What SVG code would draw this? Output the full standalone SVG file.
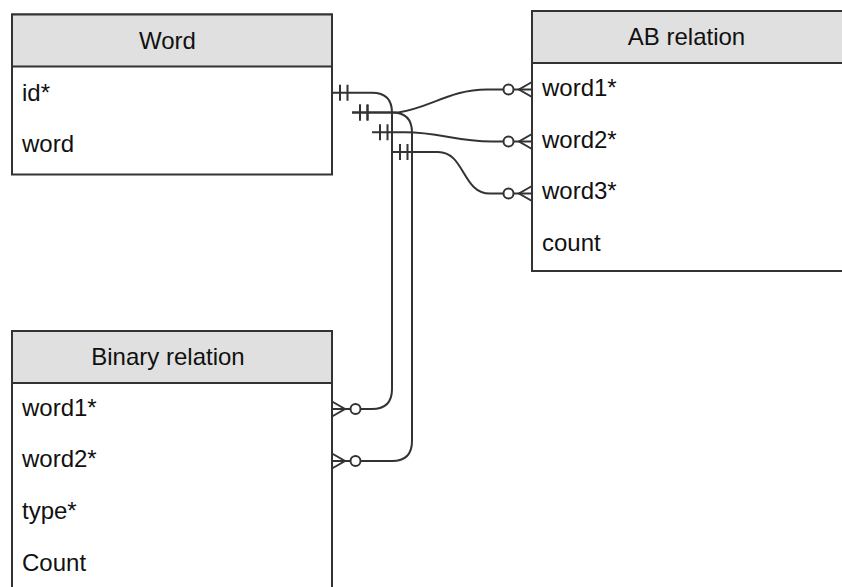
<svg xmlns="http://www.w3.org/2000/svg" width="842" height="587" viewBox="0 0 842 587">
  <style>
    .box { fill: #ffffff; stroke: #333333; stroke-width: 2; }
    .head { fill: #e0e0e0; stroke: #333333; stroke-width: 2; }
    .title { font-family: "Liberation Sans", Arial, sans-serif; font-size: 24px; fill: #111111; text-anchor: middle; }
    .field { font-family: "Liberation Sans", Arial, sans-serif; font-size: 24px; fill: #111111; }
    .link { fill: none; stroke: #333333; stroke-width: 2; }
    .mk { fill: none; stroke: #333333; stroke-width: 2; }
  </style>
  <defs>
    <!-- exactly one: two bars near the line start -->
    <marker id="one" markerUnits="userSpaceOnUse" orient="auto" markerWidth="40" markerHeight="40" viewBox="-20 -20 40 40" refX="0" refY="0" overflow="visible">
      <path class="mk" d="M8,-8 V8 M15.5,-8 V8"/>
    </marker>
    <!-- zero or many: circle plus crow's foot at the line end -->
    <marker id="many" markerUnits="userSpaceOnUse" orient="auto" markerWidth="60" markerHeight="40" viewBox="-40 -20 60 40" refX="0" refY="0" overflow="visible">
      <path class="mk" d="M0,-7.5 L-13,0 L0,7.5"/>
      <circle class="mk" cx="-23.5" cy="0" r="5" style="fill:#ffffff"/>
    </marker>
  </defs>

  <g id="word">
    <rect class="box" x="12" y="14.5" width="320" height="160"/>
    <rect class="head" x="12" y="14.5" width="320" height="52"/>
    <text class="title" x="167.5" y="49">Word</text>
    <text class="field" x="22" y="101">id*</text>
    <text class="field" x="22" y="152">word</text>
  </g>

  <g id="ab-relation">
    <rect class="box" x="532" y="11" width="312" height="260"/>
    <rect class="head" x="532" y="11" width="312" height="52"/>
    <text class="title" x="686.5" y="45">AB relation</text>
    <text class="field" x="542" y="96">word1*</text>
    <text class="field" x="542" y="148">word2*</text>
    <text class="field" x="542" y="199">word3*</text>
    <text class="field" x="542" y="251">count</text>
  </g>

  <g id="binary-relation">
    <rect class="box" x="12" y="331" width="320" height="270"/>
    <rect class="head" x="12" y="331" width="320" height="52"/>
    <text class="title" x="168" y="365">Binary relation</text>
    <text class="field" x="22" y="416">word1*</text>
    <text class="field" x="22" y="467">word2*</text>
    <text class="field" x="22" y="519">type*</text>
    <text class="field" x="22" y="571">Count</text>
  </g>

  <g id="connectors">
    <!-- Word.id to Binary relation.word1 -->
    <path class="link" marker-start="url(#one)" marker-end="url(#many)" d="M332,92.7 H372 Q392,92.7 392,112.7 V389 Q392,409 372,409 H332"/>
    <!-- Word.id to AB relation.word1 -->
    <path class="link" marker-start="url(#one)" marker-end="url(#many)" d="M352,112.5 H398 C430,108 450,89.5 487,89.5 H532"/>
    <!-- Word.id to Binary relation.word2 -->
    <path class="link" marker-start="url(#one)" marker-end="url(#many)" d="M352,112.5 H392 Q412,112.5 412,132.5 V441 Q412,461 392,461 H332"/>
    <!-- Word.id to AB relation.word2 -->
    <path class="link" marker-start="url(#one)" marker-end="url(#many)" d="M372,132.3 H405 C440,132.3 455,141.5 492,141.5 H532"/>
    <!-- Word.id to AB relation.word3 -->
    <path class="link" marker-start="url(#one)" marker-end="url(#many)" d="M392,152 H438 C465,152 462,193.5 490,193.5 H532"/>
  </g>
</svg>
